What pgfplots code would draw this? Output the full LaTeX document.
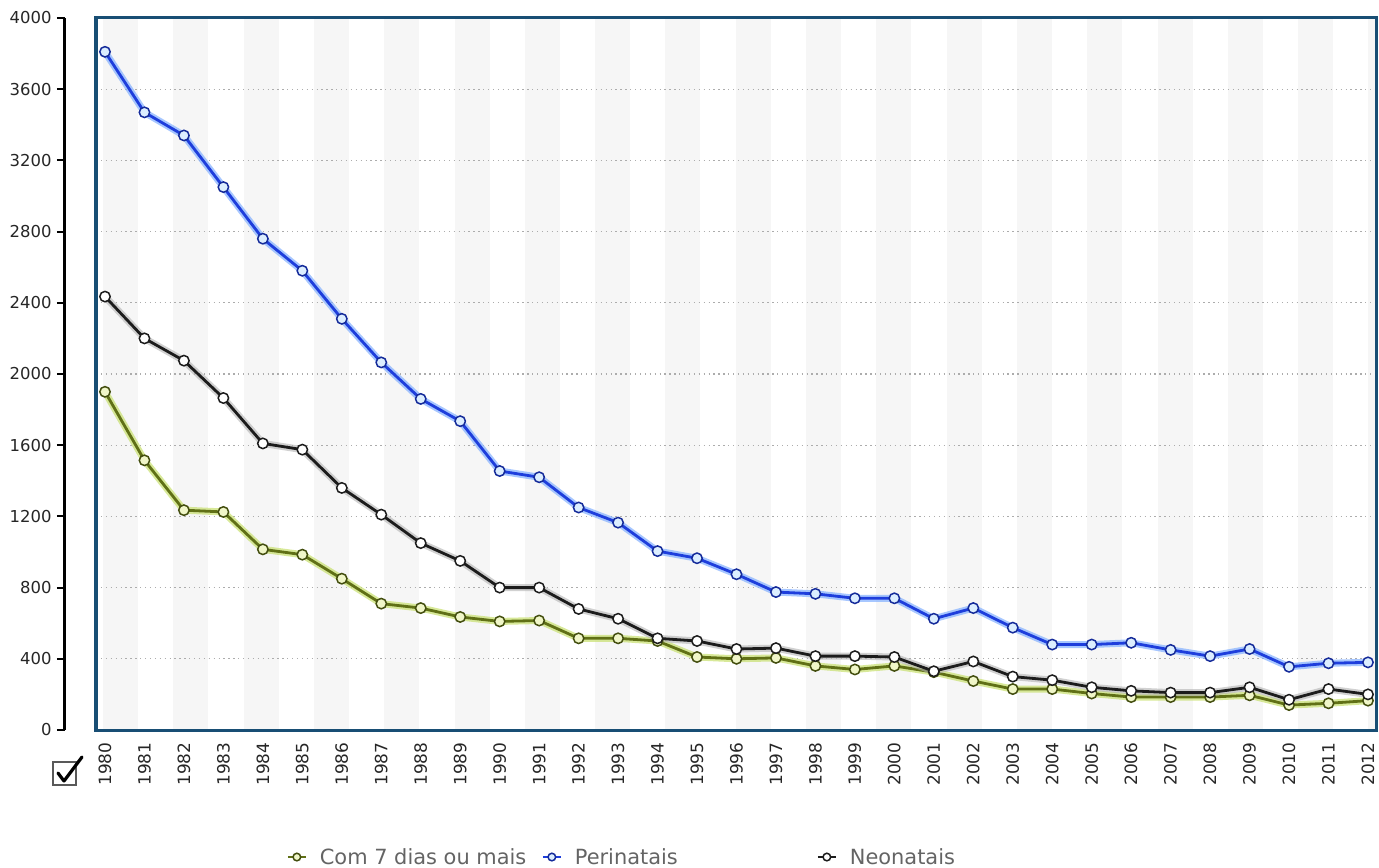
\documentclass[border=0pt]{standalone}
\usepackage{pgfplots}
\pgfplotsset{compat=1.18}
\usepackage{pgfplotstable}
\usepackage{fontspec}
\setmainfont{DejaVu Sans}

\definecolor{frameblue}{RGB}{24,78,116}
\definecolor{stripe}{RGB}{246,246,246}
\definecolor{olivel}{RGB}{96,112,22}
\definecolor{oliveglow}{RGB}{200,224,110}
\definecolor{olivefill}{RGB}{240,246,200}
\definecolor{bluel}{RGB}{30,62,220}
\definecolor{blueglow}{RGB}{130,175,255}
\definecolor{bluefill}{RGB}{220,238,255}
\definecolor{blackl}{RGB}{28,28,28}
\definecolor{legtext}{RGB}{100,100,100}

% obitos por ano
\pgfplotstableread{
ano  com7 peri neo
1980 1900 3810 2435
1981 1515 3470 2200
1982 1235 3340 2075
1983 1225 3050 1865
1984 1015 2760 1610
1985  985 2580 1575
1986  850 2310 1360
1987  710 2065 1210
1988  685 1860 1050
1989  635 1735  950
1990  610 1455  800
1991  615 1420  800
1992  515 1250  680
1993  515 1165  625
1994  500 1005  515
1995  410  965  500
1996  400  875  455
1997  405  775  460
1998  360  765  415
1999  340  740  415
2000  360  740  410
2001  325  625  330
2002  275  685  385
2003  230  575  300
2004  230  480  280
2005  205  480  240
2006  185  490  220
2007  185  450  210
2008  185  415  210
2009  195  455  240
2010  140  355  170
2011  150  375  230
2012  165  380  200
}\dados

\begin{document}
\begin{tikzpicture}
\useasboundingbox (-96bp,-138bp) rectangle (1283bp,730bp);

% eixo y separado
\begin{axis}[
  at={(-31bp,0bp)}, anchor=south west,
  scale only axis, width=10bp, height=712bp,
  ymin=0, ymax=4000, xmin=0, xmax=1,
  axis x line=none, axis y line=left,
  axis line style={-, line width=3bp, black},
  ytick distance=400, xtick=\empty,
  tick align=outside, major tick length=8bp,
  every tick/.style={line width=2bp, black},
  /pgf/number format/assume math mode=true,
  /pgf/number format/1000 sep={},
  yticklabel style={font=\fontsize{16.5}{18}\selectfont, text=black!85, xshift=-2bp},
]
\end{axis}

\begin{axis}[
  scale only axis, width=1281bp, height=712bp,
  xmin=1979.772, xmax=2012.228, ymin=0, ymax=4000,
  axis on top,
  axis line style={draw=frameblue, line width=3bp},
  ytick=\empty,
  xtick={1980,...,2012},
  major tick length=0pt,
  /pgf/number format/assume math mode=true,
  /pgf/number format/1000 sep={},
  xticklabel style={yshift=-9bp, rotate=90, anchor=east,
    font=\fontsize{17}{18}\selectfont, text=black!85},
  legend columns=3,
  legend style={at={(0.149,-0.1784)}, anchor=west, draw=none, fill=none,
    inner sep=0pt, outer sep=0pt,
    font=\fontsize{21}{23}\selectfont, text=legtext,
    nodes={inner sep=0pt},
    /tikz/every odd column/.append style={column sep=13bp}},
  legend image code/.code={
    \draw[mark repeat=2, mark phase=2, #1, line width=2bp, mark size=3.8bp]
      plot coordinates {(0bp,0bp) (9bp,0bp) (18bp,0bp)};},
]
% faixas de fundo e grade pontilhada
\pgfplotsinvokeforeach{0,...,18}{
  \fill[stripe] (axis cs:{1979.952+1.7811*#1},0) rectangle (axis cs:{1979.952+1.7811*#1+0.8868},4000);
}
\pgfplotsinvokeforeach{400,800,...,3600}{
  \draw[gray!65, line width=1.3bp, dash pattern=on 1.3bp off 3.6bp]
    (axis cs:1979.772,#1) -- (axis cs:2012.228,#1);
}

\addplot[oliveglow, line width=7bp, opacity=0.7, forget plot] table[x=ano, y=com7]{\dados};
\addplot[olivel, line width=2.8bp, mark=*, mark size=5.2bp,
  mark options={fill=olivefill, draw=olivel!70!black, line width=1.5bp}]
  table[x=ano, y=com7]{\dados};
\addlegendentry{\makebox[222bp][l]{Com 7 dias ou mais}}

\addplot[blueglow, line width=7bp, opacity=0.7, forget plot] table[x=ano, y=peri]{\dados};
\addplot[bluel, line width=2.8bp, mark=*, mark size=5.2bp,
  mark options={fill=bluefill, draw=bluel!70!black, line width=1.5bp}]
  table[x=ano, y=peri]{\dados};
\addlegendentry{\makebox[242bp][l]{Perinatais}}

\addplot[gray!60, line width=7bp, opacity=0.6, forget plot] table[x=ano, y=neo]{\dados};
\addplot[blackl, line width=2.8bp, mark=*, mark size=5.2bp,
  mark options={fill=white, draw=blackl, line width=1.5bp}]
  table[x=ano, y=neo]{\dados};
\addlegendentry{Neonatais}
\end{axis}

% caixa de selecao
\draw[gray!70!black, line width=1.6bp, fill=white] (-43bp,-55bp) rectangle (-20bp,-32bp);
\draw[black, line width=3.2bp, line join=round, line cap=round]
  (-38bp,-43bp) -- (-32bp,-51bp) -- (-14bp,-27bp);
\end{tikzpicture}
\end{document}
